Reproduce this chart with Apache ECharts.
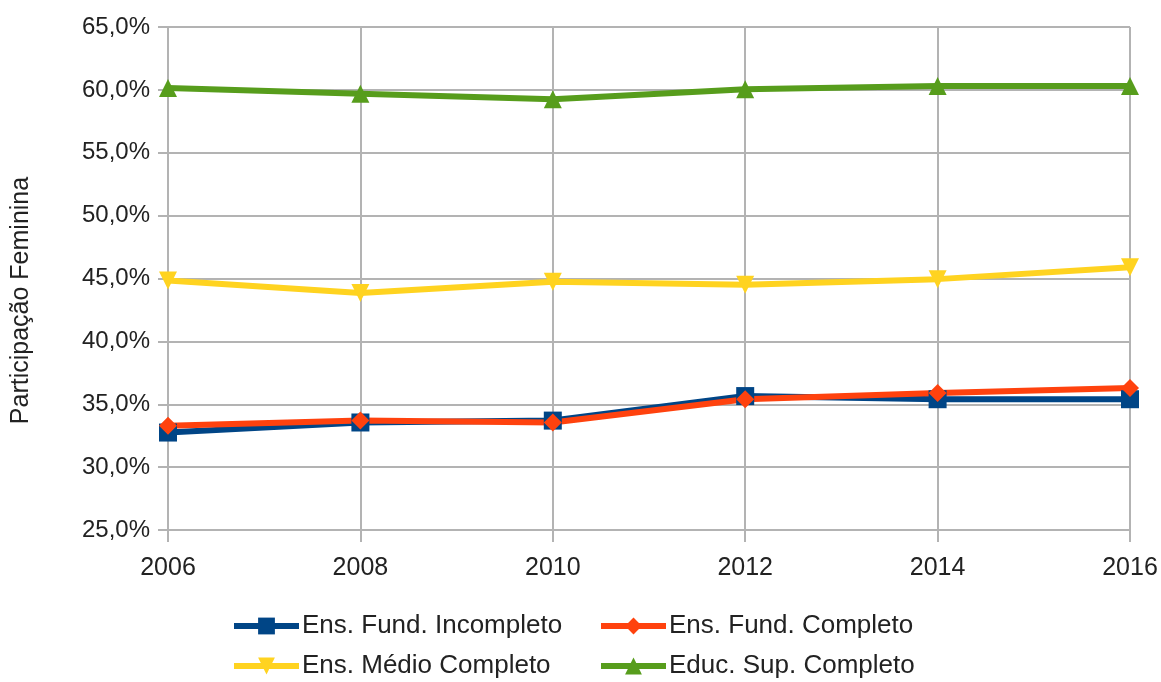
<!DOCTYPE html>
<html>
<head>
<meta charset="utf-8">
<script src="https://cdn.jsdelivr.net/npm/echarts@6/dist/echarts.min.js"></script>
<style>
  html, body { margin: 0; padding: 0; background: #fff; }
  #chart { width: 1161px; height: 682px; }
</style>
</head>
<body>
<div id="chart"></div>
<script>
// anos e valores (%)
const anos = ['2006', '2008', '2010', '2012', '2014', '2016']
const fundIncompleto = [32.75, 33.55, 33.7, 35.65, 35.4, 35.4]
const fundCompleto = [33.3, 33.7, 33.55, 35.4, 35.9, 36.3]
const medioCompleto = [44.85, 43.85, 44.75, 44.5, 44.95, 45.9]
const supCompleto = [60.15, 59.7, 59.25, 60.05, 60.3, 60.3]

const FONT = '"Liberation Sans", Arial, sans-serif'
const cinza = '#b3b3b3'

const chart = echarts.init(document.getElementById('chart'))

function serie (nome, dados, cor, simbolo, rot) {
  return {
    name: nome,
    type: 'line',
    data: dados,
    symbol: simbolo,
    symbolSize: 18,
    symbolRotate: rot || 0,
    lineStyle: { color: cor, width: 6 },
    itemStyle: { color: cor },
    animation: false
  }
}

// uma legenda por item, para fixar a grade 2x2
function legenda (nome, x, y) {
  return {
    data: [nome],
    left: x,
    top: y,
    itemWidth: 65,
    itemHeight: 21,
    itemGap: 0,
    lineStyle: { width: 6 },
    textStyle: { fontFamily: FONT, fontSize: 26, color: '#222', padding: [0, 0, 0, -2] }
  }
}

chart.setOption({
  backgroundColor: '#fff',
  grid: { left: 168, right: 31, top: 27, bottom: 152 },
  xAxis: {
    type: 'category',
    data: anos,
    boundaryGap: false,
    axisLine: { lineStyle: { color: cinza, width: 2 } },
    axisTick: { show: true, length: 12, lineStyle: { color: cinza, width: 2 } },
    axisLabel: { fontFamily: FONT, fontSize: 25, color: '#222', margin: 26 },
    splitLine: { show: true, lineStyle: { color: cinza, width: 2 } }
  },
  yAxis: {
    type: 'value',
    min: 25,
    max: 65,
    interval: 5,
    name: 'Participação Feminina',
    nameLocation: 'middle',
    nameGap: 134,
    nameTextStyle: { fontFamily: FONT, fontSize: 25, color: '#222', padding: [0, 44, 0, 0] },
    axisLine: { show: true, lineStyle: { color: cinza, width: 2 } },
    axisTick: { show: true, length: 10, lineStyle: { color: cinza, width: 2 } },
    axisLabel: {
      fontFamily: FONT, fontSize: 24, color: '#222', margin: 18,
      formatter: v => v.toFixed(1).replace('.', ',') + '%'
    },
    splitLine: { lineStyle: { color: cinza, width: 2 } }
  },
  legend: [
    legenda('Ens. Fund. Incompleto', 226, 608),
    legenda('Ens. Fund. Completo', 593, 608),
    legenda('Ens. Médio Completo', 226, 648),
    legenda('Educ. Sup. Completo', 593, 648)
  ],
  series: [
    serie('Ens. Fund. Incompleto', fundIncompleto, '#004586', 'rect'),
    serie('Ens. Fund. Completo', fundCompleto, '#ff420e', 'diamond'),
    serie('Ens. Médio Completo', medioCompleto, '#ffd320', 'triangle', 180),
    serie('Educ. Sup. Completo', supCompleto, '#579d1c', 'triangle')
  ]
})
</script>
</body>
</html>
